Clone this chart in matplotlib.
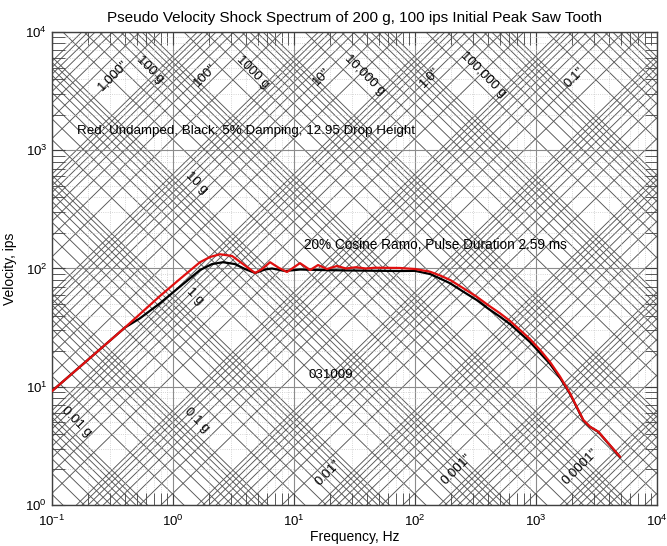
import matplotlib
matplotlib.use('Agg')
import matplotlib.pyplot as plt
import numpy as np

plt.rcParams['font.family'] = ['Liberation Sans', 'DejaVu Sans']
plt.rcParams['mathtext.fontset'] = 'custom'
plt.rcParams['mathtext.rm'] = 'Liberation Sans'
plt.rcParams['mathtext.it'] = 'Liberation Sans'

G_IPS = 386.09  # 1 g in in/s^2

# Undamped pseudo velocity spectrum (Hz, ips)
red_freq = [0.1, 0.206, 0.401, 0.78, 1.14, 1.67, 2.02, 2.44, 3.08, 3.79,
            4.77, 5.45, 6.34, 7.52, 8.75, 11.2, 13.6, 15.8, 18.7, 22.7, 26.9,
            32.5, 39.3, 46.6, 75.1, 100, 133, 161, 195, 249, 323, 401, 504,
            610, 738, 892, 1080, 1305, 1578, 1910, 2460, 2795, 3273, 4943]
red_vel = [9.2, 17.5, 31.7, 58.5, 81.5, 113, 125, 132, 127.6, 109,
           91.6, 99, 113, 101, 93.4, 111, 97.1, 107, 99, 105, 100,
           102.5, 100, 101.5, 101, 99, 94, 87.3, 80, 68.4, 57.8, 49.1, 41.8,
           36, 30.2, 25.3, 20.5, 16.2, 12.2, 8.8, 5.24, 4.59, 4.17, 2.56]

# 5% damped pseudo velocity spectrum (Hz, ips)
black_freq = [0.1, 0.206, 0.401, 0.533, 0.78, 1.14, 1.67, 2.10, 2.59, 3.25,
              3.93, 4.77, 5.75, 6.58, 8.43, 11.2, 16.4, 29.0, 75.1, 100, 133,
              161, 195, 249, 323, 401, 504, 610, 892, 1305, 1578, 1910, 2460,
              2795, 3273, 4943]
black_vel = [9.2, 17.5, 31.7, 37.9, 50.8, 70.2, 97, 109, 113, 109,
             99, 91.6, 98, 100, 95.2, 98, 97.1, 96.2, 95.2, 95.5, 89.8,
             82.3, 75, 63.9, 54.2, 45.9, 39.1, 33.9, 23.9, 15.6, 11.9, 8.7, 5.2,
             4.58, 4.15, 2.55]

# Labels for the constant-acceleration lines
accel_text = ['100 g', '1000 g', '10,000 g', '100,000 g', '10 g', '1 g',
              '0.01 g', '0.1 g']
accel_f = [0.646, 4.58, 38.6, 365, 1.57, 1.52, 0.16, 1.57]
accel_v = [4770, 4590, 4330, 4330, 526, 57.8, 5.06, 5.24]

# Labels for the constant-displacement lines
disp_text = ['1,000"', '100"', '10"', '1.0"', '0.1"', '0.01"', '0.001"',
             '0.0001"']
disp_f = [0.319, 1.84, 17.0, 133, 2100, 19.2, 221, 2310]
disp_v = [4330, 4330, 4160, 4080, 4080, 1.85, 1.98, 2.11]

fig = plt.figure(figsize=(6.67, 5.46), dpi=100)
ax = fig.add_axes([0.078, 0.0751, 0.907, 0.8663])
ax.set_xscale('log')
ax.set_yscale('log')
ax.set_xlim(0.1, 1e4)
ax.set_ylim(1, 1e4)

# Tripartite grid: lines of constant acceleration and displacement
f_line = np.array([1e-3, 1e6])
mult = np.arange(1, 10)
for n in range(-4, 7):
    for k in mult:
        a = k * 10.0**n
        ax.plot(f_line, a * G_IPS / (2 * np.pi * f_line),
                color='#555555', lw=0.65, zorder=1)
for n in range(-8, 4):
    for k in mult:
        d = k * 10.0**n
        ax.plot(f_line, 2 * np.pi * f_line * d,
                color='#555555', lw=0.65, zorder=1)

ax.grid(True, which='major', color='#8c8c8c', lw=0.8, ls='-', zorder=0)
ax.grid(True, which='minor', color='#c8c8c8', lw=0.6, ls=':', zorder=0)

ax.plot(black_freq, black_vel, color='black', lw=1.6, zorder=3)
ax.plot(red_freq, red_vel, color='#e01010', lw=1.6, zorder=4)

for t, f, v in zip(accel_text, accel_f, accel_v):
    ax.text(f, v, t, rotation=-45, fontsize=9.5, ha='center', va='center',
            rotation_mode='anchor', zorder=5)
for t, f, v in zip(disp_text, disp_f, disp_v):
    ax.text(f, v, t, rotation=45, fontsize=9.5, ha='center', va='center',
            rotation_mode='anchor', zorder=5)

ax.text(0.161, 1456, 'Red: Undamped, Black: 5% Damping; 12.95 Drop Height',
        fontsize=9.6, va='center', zorder=5)
ax.text(12.1, 158, '20% Cosine Ramo, Pulse Duration 2.59 ms',
        fontsize=9.8, va='center', zorder=5)
ax.text(13.1, 12.6, '031009', fontsize=9.6, va='center', zorder=5)

ax.set_title('Pseudo Velocity Shock Spectrum of 200 g, 100 ips Initial Peak Saw Tooth',
             fontsize=11, pad=7)
ax.set_xlabel('Frequency, Hz', fontsize=10, labelpad=1)
ax.set_ylabel('Velocity, ips', fontsize=10, labelpad=6)

ax.tick_params(which='both', direction='in', top=True, right=True,
               labelsize=9.5, color='#404040')
ax.tick_params(axis='x', which='major', pad=6)
ax.tick_params(which='major', length=9)
ax.tick_params(which='minor', length=9)
for s in ax.spines.values():
    s.set_color('#404040')
    s.set_linewidth(1.0)

fig.savefig('out.png', dpi=100)
